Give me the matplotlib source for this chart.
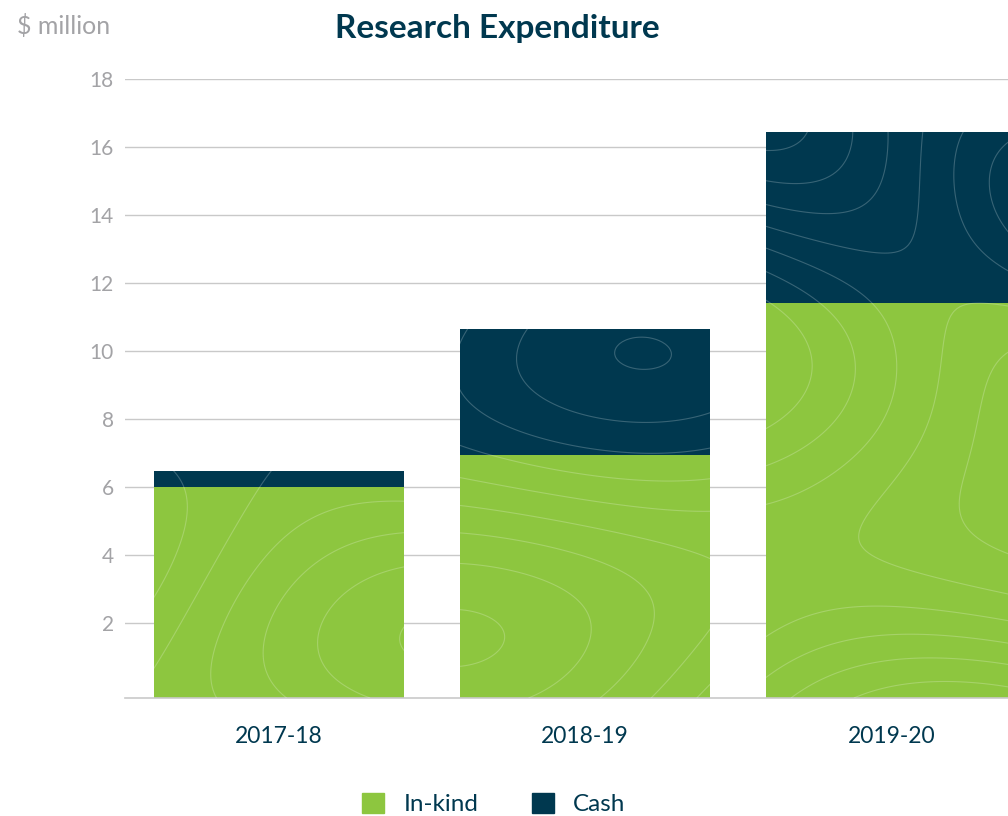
import numpy as np
import matplotlib.pyplot as plt
from matplotlib.patches import Patch

years = ["2017-18", "2018-19", "2019-20"]
in_kind = [6.0, 6.95, 11.4]
cash = [0.47, 3.7, 5.05]
y_ticks = [2, 4, 6, 8, 10, 12, 14, 16, 18]

green = "#8dc63f"
navy = "#00384f"
grey_txt = "#a3a3a6"

plt.rcParams["font.family"] = ["Lato", "DejaVu Sans"]

fig = plt.figure(figsize=(10.08, 8.16), dpi=100)
ax = fig.add_axes([0.124, 0.1446, 0.913, 0.7586])

ymin = -0.2
x = np.arange(len(years))
width = 0.817
base = [ymin] * len(years)
ik_h = [v - ymin for v in in_kind]
b1 = ax.bar(x, ik_h, width, bottom=base, color=green, label="In-kind", zorder=2)
b2 = ax.bar(x, cash, width, bottom=in_kind, color=navy, label="Cash", zorder=2)

# faint contour texture inside the bars
gx, gy = np.meshgrid(np.linspace(-0.6, 2.6, 300), np.linspace(ymin, 18, 300))
field = np.sin(gx * 2.3 + gy * 0.25) + np.cos(gy * 0.45 - gx * 1.1) + 0.4 * np.sin(gx * gy * 0.3)
for rect in list(b1) + list(b2):
    cs = ax.contour(gx, gy, field, levels=9, colors="white", linewidths=0.8,
                    linestyles="solid", alpha=0.22, zorder=3)
    cs.set_clip_path(rect)

ax.set_xlim(-0.503, 2.503)
ax.set_ylim(ymin, 18)
ax.set_yticks(y_ticks)
ax.set_yticklabels([str(t) for t in y_ticks], color=grey_txt, fontsize=15)
ax.set_xticks(x)
ax.set_xticklabels(years, color=navy, fontsize=16.5)
ax.tick_params(axis="y", length=0, pad=8)
ax.tick_params(axis="x", length=0, pad=20)
ax.grid(axis="y", color="#c9c9c9", linewidth=1, zorder=0)
for s in ["top", "right", "left"]:
    ax.spines[s].set_visible(False)
ax.spines["bottom"].set_color("#c9c9c9")
ax.spines["bottom"].set_linewidth(1.2)

fig.text(0.493, 0.965, "Research Expenditure", ha="center", va="center",
         fontsize=24, fontweight="bold", color=navy)
fig.text(0.017, 0.968, "$ million", ha="left", va="center", fontsize=18, color=grey_txt)

handles = [Patch(color=green, label="In-kind"), Patch(color=navy, label="Cash")]
fig.legend(handles=handles, loc="center", bbox_to_anchor=(0.49, 0.015), ncol=2,
           frameon=False, fontsize=17.5, labelcolor=navy, handlelength=0.9,
           handleheight=0.9, columnspacing=2.2, handletextpad=0.8)

fig.savefig("out.png", dpi=100)
